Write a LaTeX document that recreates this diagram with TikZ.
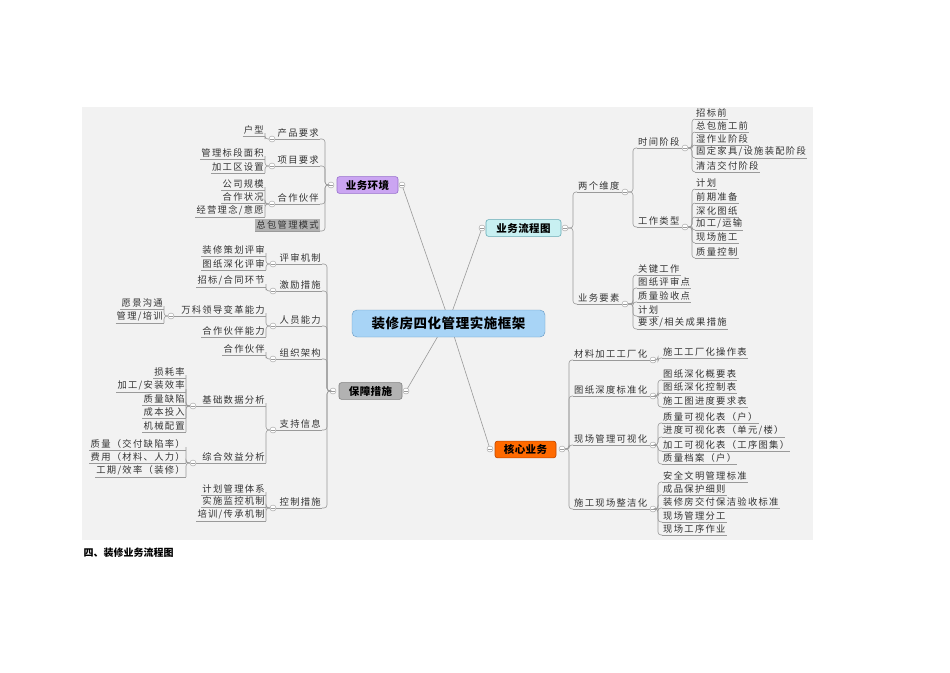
\documentclass[tikz,border=0pt]{standalone}
\usepackage{fontspec}
\setmainfont{Noto Sans CJK SC}
\newfontfamily\cjk[LetterSpace=14]{Noto Sans CJK SC}
\newfontfamily\cjkm[LetterSpace=4]{Noto Sans CJK SC}
\newcommand\fs{\cjk\fontsize{9.3}{10}\selectfont}
\definecolor{lnk}{HTML}{9A9A9A}
\tikzset{
 ul/.style={draw=lnk,line width=0.6pt},
 lt/.style={font=\fs,inner xsep=1pt,inner ysep=1.5pt,text=black!80,
   append after command={(\tikzlastnode.south west) edge[ul] (\tikzlastnode.south east)}},
 lk/.style={draw=lnk,line width=0.6pt,rounded corners=3pt},
 cc/.style={circle,draw=lnk,fill=white,minimum size=6pt,inner sep=0pt,
   path picture={\draw[lnk] ([xshift=-1.7pt]path picture bounding box.center)--([xshift=1.7pt]path picture bounding box.center);}},
 mbox/.style={rounded corners=2.5pt,draw,line width=0.6pt,minimum height=16pt,inner xsep=3pt,font=\cjkm\fontsize{10.5}{12}\selectfont\bfseries}
}
\newcommand\LL[4]{\node[lt,anchor=south east] (#1) at (#2,#3) {#4};}
\newcommand\RL[4]{\node[lt,anchor=south west] (#1) at (#2,#3) {#4};}
\newcommand\CC[3]{\node[cc] (#1) at (#2,#3) {};}
\newcommand\lc[3]{\draw[lk] (#1.south east) -- (#1.south east -| #3,0) |- (#2.west);}
\newcommand\rc[3]{\draw[lk] (#2.east) -| (#1.south west -| #3,0) -- (#1.south west);}
\begin{document}
\begin{tikzpicture}[x=1pt,y=-1pt]
\useasboundingbox (0,0) rectangle (950,672);
\fill[white] (0,0) rectangle (950,672);
\fill[black!5] (82,107) rectangle (813,540);
\node[anchor=west,font=\fontsize{10}{12}\selectfont\bfseries] (head) at (80,553) {四、装修业务流程图};

% center
\draw[lnk,line width=0.6pt] (402,185) -- (446,312);
\draw[lnk,line width=0.6pt] (482,228) -- (452,312);
\draw[lnk,line width=0.6pt] (406,391) -- (438,336);
\draw[lnk,line width=0.6pt] (490,449) -- (454,336);
\node[rounded corners=5pt,draw=blue!45!cyan!60!black!60,fill={rgb,255:red,168;green,212;blue,246},minimum width=193pt,minimum height=27pt,font=\cjkm\fontsize{13.5}{15}\selectfont\bfseries] (center) at (448.5,323.5) {装修房四化管理实施框架};

% ===== 业务环境
\node[mbox,fill={rgb,255:red,203;green,165;blue,242},draw={rgb,255:red,150;green,110;blue,205},minimum width=61pt] (env) at (367.5,185) {业务环境};
\CC{eL}{331}{185}\CC{eR}{402}{185}
\LL{p1}{320}{139}{产品要求}
\LL{p2}{320}{166}{项目要求}
\LL{p3}{320}{204}{合作伙伴}
\node[lt,anchor=south east,fill=black!30] (p4) at (320,231) {总包管理模式};
\foreach \p in {p1,p2,p3,p4} {\lc{\p}{eL}{325}}
\CC{c1}{272}{139}\CC{c2}{272}{166}\CC{c3}{272}{204}
\draw[lk] (c1.east)--(p1.south west); \draw[lk] (c2.east)--(p2.south west); \draw[lk] (c3.east)--(p3.south west);
\LL{a1}{265}{136}{户型}\lc{a1}{c1}{265}
\LL{a2}{265}{159}{管理标段面积}\lc{a2}{c2}{265}
\LL{a3}{265}{173}{加工区设置}\lc{a3}{c2}{265}
\LL{a4}{265}{190}{公司规模}\lc{a4}{c3}{265}
\LL{a5}{265}{203}{合作状况}\lc{a5}{c3}{265}
\LL{a6}{265}{217}{经营理念/意愿}\lc{a6}{c3}{265}

% ===== 保障措施
\node[mbox,fill=black!30,draw=black!50,minimum width=63pt] (gua) at (370.5,391) {保障措施};
\CC{gL}{333}{391}\CC{gR}{406}{391}
\LL{q1}{322}{264}{评审机制}
\LL{q2}{322}{291}{激励措施}
\LL{q3}{322}{326}{人员能力}
\LL{q4}{322}{359}{组织架构}
\LL{q5}{322}{430}{支持信息}
\LL{q6}{322}{508}{控制措施}
\foreach \p in {q1,q2,q3,q4,q5,q6} {\lc{\p}{gL}{327}}
\CC{d1}{273}{264}\CC{d2}{273}{291}\CC{d3}{273}{326}\CC{d4}{273}{359}\CC{d5}{273}{430}\CC{d6}{273}{508}
\draw[lk] (d1.east)--(q1.south west); \draw[lk] (d2.east)--(q2.south west); \draw[lk] (d3.east)--(q3.south west);
\draw[lk] (d4.east)--(q4.south west); \draw[lk] (d5.east)--(q5.south west); \draw[lk] (d6.east)--(q6.south west);
\LL{b1}{266}{256}{装修策划评审}\lc{b1}{d1}{266}
\LL{b2}{266}{270}{图纸深化评审}\lc{b2}{d1}{266}
\LL{b3}{266}{287}{招标/合同环节}\lc{b3}{d2}{266}
\LL{b4}{266}{316}{万科领导变革能力}\lc{b4}{d3}{266}
\LL{b5}{266}{337}{合作伙伴能力}\lc{b5}{d3}{266}
\CC{e4}{171}{316}\draw[lk] (e4.east)--(b4.south west);
\LL{g1}{164}{309}{愿景沟通}\lc{g1}{e4}{164}
\LL{g2}{164}{323}{管理/培训}\lc{g2}{e4}{164}
\LL{b6}{266}{355}{合作伙伴}\lc{b6}{d4}{266}
\LL{b7}{266}{406}{基础数据分析}\lc{b7}{d5}{266}
\LL{b8}{266}{463}{综合效益分析}\lc{b8}{d5}{266}
\CC{e7}{193}{406}\draw[lk] (e7.east)--(b7.south west);
\CC{e8}{193}{463}\draw[lk] (e8.east)--(b8.south west);
\LL{h1}{186}{378}{损耗率}\lc{h1}{e7}{186}
\LL{h2}{186}{392}{加工/安装效率}\lc{h2}{e7}{186}
\LL{h3}{186}{405}{质量缺陷}\lc{h3}{e7}{186}
\LL{h4}{186}{418}{成本投入}\lc{h4}{e7}{186}
\LL{h5}{186}{432}{机械配置}\lc{h5}{e7}{186}
\LL{h6}{186}{450}{质量（交付缺陷率）}\lc{h6}{e8}{186}
\LL{h7}{186}{463}{费用（材料、人力）}\lc{h7}{e8}{186}
\LL{h8}{186}{477}{工期/效率（装修）}\lc{h8}{e8}{186}
\LL{b9}{266}{495}{计划管理体系}\lc{b9}{d6}{266}
\LL{b10}{266}{507}{实施监控机制}\lc{b10}{d6}{266}
\LL{b11}{266}{521}{培训/传承机制}\lc{b11}{d6}{266}

% ===== 业务流程图
\node[mbox,fill={rgb,255:red,200;green,240;blue,242},draw={rgb,255:red,100;green,170;blue,180},minimum width=75pt] (flow) at (523.5,228) {业务流程图};
\CC{fL}{482}{228}\CC{fR}{565}{228}
\RL{r1}{577}{192}{两个维度}
\RL{r2}{577}{304}{业务要素}
\rc{r1}{fR}{573}\rc{r2}{fR}{573}
\CC{k1}{625}{192}\CC{k2}{625}{304}
\draw[lk] (r1.south east)--(k1.west); \draw[lk] (r2.south east)--(k2.west);
\RL{s1}{637}{148}{时间阶段}\rc{s1}{k1}{633}
\RL{s2}{637}{227}{工作类型}\rc{s2}{k1}{633}
\CC{m1}{685}{148}\CC{m2}{685}{227}
\draw[lk] (s1.south east)--(m1.west); \draw[lk] (s2.south east)--(m2.west);
\RL{t1}{695}{119}{招标前}\rc{t1}{m1}{692}
\RL{t2}{695}{132}{总包施工前}\rc{t2}{m1}{692}
\RL{t3}{695}{145}{湿作业阶段}\rc{t3}{m1}{692}
\RL{t4}{695}{158}{固定家具/设施装配阶段}\rc{t4}{m1}{692}
\RL{t5}{695}{172}{清洁交付阶段}\rc{t5}{m1}{692}
\RL{u1}{695}{189}{计划}\rc{u1}{m2}{692}
\RL{u2}{695}{203}{前期准备}\rc{u2}{m2}{692}
\RL{u3}{695}{217}{深化图纸}\rc{u3}{m2}{692}
\RL{u4}{695}{230}{加工/运输}\rc{u4}{m2}{692}
\RL{u5}{695}{243}{现场施工}\rc{u5}{m2}{692}
\RL{u6}{695}{258}{质量控制}\rc{u6}{m2}{692}
\RL{v1}{637}{275}{关键工作}\rc{v1}{k2}{633}
\RL{v2}{637}{288}{图纸评审点}\rc{v2}{k2}{633}
\RL{v3}{637}{302}{质量验收点}\rc{v3}{k2}{633}
\RL{v4}{637}{316}{计划}\rc{v4}{k2}{633}
\RL{v5}{637}{329}{要求/相关成果措施}\rc{v5}{k2}{633}

% ===== 核心业务
\node[mbox,fill={rgb,255:red,255;green,106;blue,0},draw={rgb,255:red,190;green,70;blue,0},minimum width=61pt] (core) at (525.5,449.5) {核心业务};
\CC{kL}{490}{449}\CC{kR}{562}{449}
\RL{w1}{573}{360}{材料加工工厂化}
\RL{w2}{573}{396}{图纸深度标准化}
\RL{w3}{573}{445}{现场管理可视化}
\RL{w4}{573}{509}{施工现场整洁化}
\foreach \p in {w1,w2,w3,w4} {\rc{\p}{kR}{569}}
\CC{n1}{653}{360}\CC{n2}{653}{396}\CC{n3}{653}{445}\CC{n4}{653}{509}
\draw[lk] (w1.south east)--(n1.west); \draw[lk] (w2.south east)--(n2.west);
\draw[lk] (w3.south east)--(n3.west); \draw[lk] (w4.south east)--(n4.west);
\RL{x1}{662}{358}{施工工厂化操作表}\rc{x1}{n1}{658}
\RL{x2}{662}{380}{图纸深化概要表}\rc{x2}{n2}{658}
\RL{x3}{662}{393}{图纸深化控制表}\rc{x3}{n2}{658}
\RL{x4}{662}{407}{施工图进度要求表}\rc{x4}{n2}{658}
\RL{x5}{662}{423}{质量可视化表（户）}\rc{x5}{n3}{658}
\RL{x6}{662}{437}{进度可视化表（单元/楼）}\rc{x6}{n3}{658}
\RL{x7}{662}{451}{加工可视化表（工序图集）}\rc{x7}{n3}{658}
\RL{x8}{662}{464}{质量档案（户）}\rc{x8}{n3}{658}
\RL{y1}{662}{482}{安全文明管理标准}\rc{y1}{n4}{658}
\RL{y2}{662}{495}{成品保护细则}\rc{y2}{n4}{658}
\RL{y3}{662}{508}{装修房交付保洁验收标准}\rc{y3}{n4}{658}
\RL{y4}{662}{522}{现场管理分工}\rc{y4}{n4}{658}
\RL{y5}{662}{535}{现场工序作业}\rc{y5}{n4}{658}
\end{tikzpicture}
\end{document}
